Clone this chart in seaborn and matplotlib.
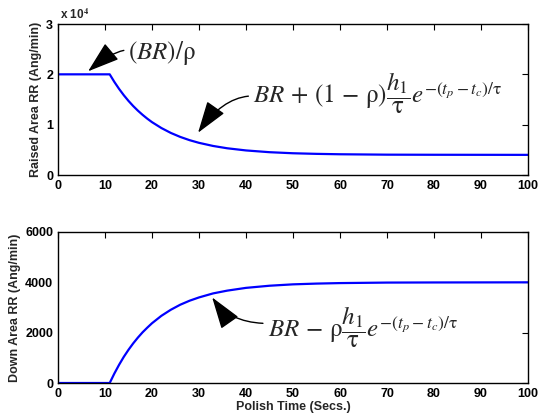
import matplotlib
matplotlib.use("Agg")
import matplotlib.pyplot as plt
import seaborn as sns
import pandas as pd

# Polish time (s) and removal rates read for the raised and down areas
t_raised = [0, 11, 12, 13, 14, 15, 16, 17, 18, 19, 20, 22, 24, 26, 28, 30, 33, 36, 40, 45, 50, 55, 60, 70, 80, 100]
rr_raised = [20000, 20000, 18480, 17100, 15850, 14720, 13700, 12780, 11950, 11190, 10500, 9330, 8360, 7570,
             6920, 6390, 5770, 5310, 4880, 4530, 4320, 4200, 4120, 4040, 4020, 4000]
t_down = [0, 11, 12, 13, 14, 15, 16, 17, 18, 19, 20, 22, 24, 26, 28, 30, 33, 36, 40, 45, 50, 55, 60, 70, 80, 100]
rr_down = [0, 0, 380, 725, 1040, 1320, 1575, 1805, 2015, 2200, 2375, 2670, 2910, 3110, 3270, 3400, 3560,
           3670, 3780, 3865, 3920, 3950, 3970, 3990, 3995, 4000]

x_ticks = [0, 10, 20, 30, 40, 50, 60, 70, 80, 90, 100]
top_yticks = [0, 10000, 20000, 30000]
top_ylabels = ["0", "1", "2", "3"]
bot_yticks = [0, 2000, 4000, 6000]

sns.set_theme(style="white")
plt.rcParams["font.family"] = ["Liberation Sans", "DejaVu Sans"]
plt.rcParams["mathtext.fontset"] = "stix"

fig = plt.figure(figsize=(5.44, 4.18), dpi=100)
ax1 = fig.add_axes([58 / 544, 1 - 175 / 418, 470 / 544, 151 / 418])
ax2 = fig.add_axes([58 / 544, 1 - 383 / 418, 470 / 544, 151 / 418])

df1 = pd.DataFrame({"t": t_raised, "rr": rr_raised})
df2 = pd.DataFrame({"t": t_down, "rr": rr_down})
sns.lineplot(data=df1, x="t", y="rr", ax=ax1, color="#0000ff", linewidth=1.6)
sns.lineplot(data=df2, x="t", y="rr", ax=ax2, color="#0000ff", linewidth=1.6)

tick_font = dict(fontsize=9, fontweight="bold")
for ax in (ax1, ax2):
    ax.set_xlim(0, 100)
    ax.set_xticks(x_ticks)
    ax.set_xticklabels([str(v) for v in x_ticks], **tick_font)
    ax.tick_params(direction="in", top=True, right=True, length=4, width=0.8, pad=3.5, colors="black")
    for s in ax.spines.values():
        s.set_color("black")
        s.set_linewidth(1.0)

ax1.set_ylim(0, 30000)
ax1.set_yticks(top_yticks)
ax1.set_yticklabels(top_ylabels, **tick_font)
ax1.set_xlabel("")
ax1.set_ylabel("Raised Area RR (Ang/min)", fontsize=9, fontweight="bold", labelpad=3)
ax1.text(0.004, 1.015, r"x 10$^{\mathbf{4}}$", transform=ax1.transAxes, fontsize=8.5,
         fontweight="bold", ha="left", va="bottom")

ax2.set_ylim(0, 6000)
ax2.set_yticks(bot_yticks)
ax2.set_yticklabels([str(v) for v in bot_yticks], **tick_font)
ax2.set_xlabel("Polish Time (Secs.)", fontsize=9, fontweight="bold", labelpad=1)
ax2.set_ylabel("Down Area RR (Ang/min)", fontsize=9, fontweight="bold", labelpad=3)


def arrow_props(angle_b, rel_y):
    return dict(arrowstyle="-|>,head_length=1.0,head_width=0.33", color="black", lw=1.0,
                connectionstyle=f"angle3,angleA=0,angleB={angle_b}", shrinkA=1, shrinkB=0,
                mutation_scale=20, relpos=(0.0, rel_y))


ax1.annotate(r"$(BR)/\mathrm{\rho}$", xy=(6.4, 20600), xytext=(15.0, 23100),
             fontsize=18, ha="left", va="baseline", arrowprops=arrow_props(40, 0.6))
ax1.annotate(r"$BR\,+\,(1\,-\,\mathrm{\rho})\dfrac{h_1}{\mathrm{\tau}}e^{-(t_p-t_c)/\mathrm{\tau}}$",
             xy=(29.8, 8400), xytext=(41.5, 14100),
             fontsize=18, ha="left", va="baseline", arrowprops=arrow_props(55, 0.45))
ax2.annotate(r"$BR\,-\,\mathrm{\rho}\dfrac{h_1}{\mathrm{\tau}}e^{-(t_p-t_c)/\mathrm{\tau}}$",
             xy=(32.8, 3400), xytext=(44.6, 1776),
             fontsize=18, ha="left", va="baseline", arrowprops=arrow_props(-55, 0.6))

fig.savefig("out.png", dpi=100, facecolor="white")
